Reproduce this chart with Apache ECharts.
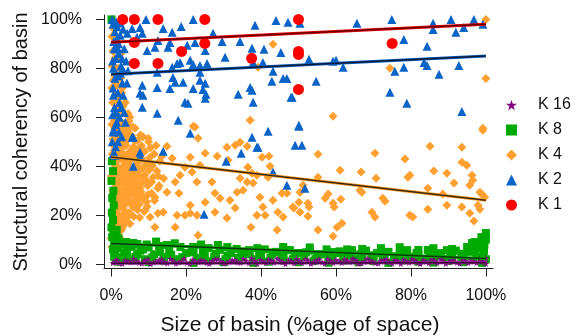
<!DOCTYPE html>
<html>
<head>
<meta charset="utf-8">
<script src="https://cdn.jsdelivr.net/npm/echarts@6/dist/echarts.min.js"></script>
<style>
  html, body { margin: 0; padding: 0; background: #fff; }
  #chart { width: 576px; height: 336px; }
</style>
</head>
<body>
<div id="chart"></div>
<script>
// tick positions on both axes (percent)
var tickValues = [0, 20, 40, 60, 80, 100];

// K 1 - red circles
var k1Points = [
    [3.1, 100], [6.2, 100], [12.5, 100], [25, 100], [50, 100], [6.2, 90.6], [25, 90.2],
    [18.8, 86.9], [6.2, 82], [12.5, 82], [37.5, 84.1], [50, 85.7], [50, 86.9], [50, 71.4], [75, 90.2]
];

// K 2 - blue triangles
var k2Points = [
    [0.5, 98], [1, 95], [1.5, 92], [0.8, 88], [2, 86], [1.2, 84], [0.6, 80], [2.5, 78], [1, 76], [3, 74],
    [0.5, 72], [1.8, 70], [2.2, 66], [0.9, 64], [3.5, 62], [1.5, 58], [0.7, 55], [2.8, 52], [1.2, 48], [0.5, 45],
    [2, 90], [3.5, 88], [4, 83], [4.5, 79], [3.2, 69], [0.5, 54], [0.3, 50], [1.1, 44.5], [5.6, 51.8], [7.7, 45.7],
    [7.7, 44], [13.9, 46.1], [5.9, 40], [1.6, 97], [3.2, 96], [2.6, 81], [4.2, 74], [1.4, 62], [3.8, 58], [2.2, 60],
    [0.3, 100], [1.3, 99], [2.4, 98.5], [0.7, 91], [1.8, 88], [2.9, 84], [0.4, 83], [1.9, 77], [3.3, 79], [0.6, 69],
    [2.7, 64], [0.4, 61], [1.2, 57], [2.1, 54], [1.8, 50],
    [9.3, 100], [21.9, 100], [13.9, 96.3], [18.7, 97.1], [16.3, 94.7], [7.7, 96.7], [5.6, 96.3], [4.3, 94.3],
    [2.4, 93.5], [6.9, 92.7], [8.3, 94.3], [27.2, 94.3], [29.6, 91], [34.4, 91], [37.6, 88.2], [40.8, 87.8],
    [45.3, 86.5], [38.4, 97.6], [44, 99.6], [47.2, 98.8], [50.4, 98.4], [22.4, 90.6], [20.3, 89.4], [15.7, 90.6],
    [15.2, 88.6], [12.5, 91.4], [11.7, 88.6], [9.6, 87.3], [25.1, 87.3], [30.4, 84.5], [25.6, 82], [23.7, 81.2],
    [21.1, 83.3], [21.9, 81.6], [18.4, 82.4], [17.6, 82], [16.3, 80.4], [12.3, 78.4], [23.7, 78.4], [40.5, 82.4],
    [37.9, 82.4], [43.2, 78.8], [45.9, 75.9], [46.9, 75.9], [42.9, 74.7], [37.1, 72.2], [37.6, 71], [33.9, 69.4],
    [37.9, 66.1], [48, 68.2], [50.1, 56.7], [41.9, 54.3], [23.7, 75.1], [25.1, 73.9], [24.5, 71.4], [25.3, 69.4],
    [25.1, 67.8], [19.2, 74.3], [16.5, 76.3], [17.1, 74.3], [15.7, 71.8], [21.9, 71.8], [12.3, 72.2], [8.3, 73.1],
    [8.5, 69], [7.7, 69.8], [19.7, 66.1], [20.5, 65.7], [17.9, 58.8], [12.3, 61.6], [8.3, 64.1], [21.1, 53.5],
    [5.9, 51.8], [65.6, 98.4], [74.9, 100], [85.9, 98.4], [85.9, 95.9], [90.7, 100], [96.8, 100], [92, 94.7],
    [94.1, 96.7], [99.2, 98], [78.1, 91.8], [84.3, 89], [52.8, 83.7], [59.2, 82.9], [60, 83.3], [61.9, 80.4],
    [75.7, 78.8], [78.1, 80.4], [83.5, 82.4], [84.3, 81.2], [87.5, 77.6], [92.8, 81.2], [54.7, 74.7], [74.4, 70.2],
    [78.9, 65.7], [93.6, 62.4], [50.1, 56.3], [48.3, 68.2], [24.8, 20.4], [30.7, 42], [34.7, 45.3], [37.6, 51.8],
    [39.2, 47.8], [49.1, 48.6], [50.9, 48.6], [43.2, 37.6], [46.9, 32.2], [51.7, 31], [38.9, 47.8], [1.1, 44.5]
];

// K 4 - orange diamonds
var k4Points = [
    [0.3, 99], [0.8, 96], [0.2, 93], [1.1, 90], [0.5, 87], [0.9, 84], [0.3, 81], [1.4, 78], [0.6, 75], [0.2, 72],
    [1, 69], [0.4, 66], [1.3, 63], [0.7, 60], [0.2, 57], [1.1, 54], [0.5, 51], [0.9, 48], [0.3, 45], [1.2, 42],
    [0.6, 39], [0.1, 36], [1, 33], [0.4, 30], [1.3, 27], [0.7, 24], [0.2, 21], [1, 18], [0.5, 15], [0.3, 12],
    [0.8, 10], [0.2, 7], [2, 84], [1.8, 80], [2.5, 76], [3, 72], [2.2, 68], [1.6, 64], [3.4, 62], [2.8, 58],
    [4.2, 57], [1.9, 56], [5, 60], [2.6, 86], [3.8, 66], [1.5, 73], [4.5, 54], [6.4, 55.5], [4.5, 55.5], [2.4, 61.6],
    [1.5, 53], [2.5, 52], [3.5, 53.5], [4.5, 51], [5.5, 52.5], [7, 50.5], [8.5, 52], [2, 49], [3, 47.5], [4, 48.5],
    [5, 46], [6, 48], [7.5, 47], [9, 46], [10.5, 47.5], [11.5, 45], [1.5, 45], [2.8, 43.5], [3.8, 44.5], [4.8, 42],
    [6.2, 43.5], [7.2, 41.5], [8.2, 43], [9.5, 41], [1.2, 40.5], [2.2, 39], [3.2, 40], [4.2, 38], [5.4, 39.5], [6.5, 37],
    [7.8, 38.5], [9, 36.5], [10.2, 38.5], [11.2, 35.5], [1.8, 36], [2.8, 34.5], [3.9, 35.5], [5, 33.5], [6, 35], [7, 32.5],
    [8.4, 33.5], [9.8, 32], [1.4, 31.5], [2.4, 30], [3.4, 31], [4.5, 29], [5.6, 30.5], [6.8, 28.5], [8, 29.5], [1.8, 27],
    [3, 26], [4, 27.5], [5.2, 25], [6.3, 26], [7.5, 24.5], [2.2, 23], [3.5, 22], [4.8, 21], [2.5, 19], [3.8, 17.5],
    [1.6, 16], [2.8, 14], [1.8, 12], [13, 42], [12.2, 38], [14, 35], [12.8, 32], [13.5, 44], [10.8, 29], [11.6, 26],
    [9.5, 25.5], [8.8, 21.5], [6, 19.5], [5, 16.5], [7.6, 19], [12, 48.5], [10, 50], [0, 10.6],
    [0.8, 58.5], [1.7, 59], [2.9, 55], [3.6, 56.8], [4.8, 58.5], [5.8, 56], [0.9, 55], [1.9, 52.5], [3.1, 50.5], [4.1, 52.8],
    [6.3, 50.5], [7.8, 52.8], [0.7, 50], [1.6, 47.5], [2.6, 46], [3.6, 49.8], [4.6, 45], [5.8, 44.8], [6.9, 46.2], [8.1, 48.4],
    [0.9, 46.6], [1.9, 42.5], [3.3, 42], [4.3, 41], [5.3, 43], [6.7, 40.2], [8.6, 39.6], [0.7, 41.8], [1.7, 38], [2.7, 37.2],
    [3.7, 38.6], [4.8, 36.2], [5.9, 38], [7.1, 36.4], [8.2, 35.1], [0.8, 37.5], [1.3, 34.3], [2.3, 33], [3.3, 33.6], [4.4, 32.2],
    [5.5, 31.8], [6.6, 33.8], [7.8, 31.2], [0.9, 31.2], [1.9, 29], [3, 28.6], [3.9, 30.2], [5, 27.8], [6.1, 28.8], [7.2, 27],
    [0.8, 28], [1.6, 25.2], [2.6, 24.5], [3.6, 24], [4.6, 25.6], [5.8, 23.2], [0.9, 22.5], [1.7, 20.5], [3, 20], [4.2, 19],
    [2, 17], [3.2, 15.5], [1.2, 13.5], [2.2, 11], [6.5, 31], [9.3, 34.5], [10.3, 43.6], [11, 40.2], [10.8, 33.6], [9.8, 28.3],
    [12.6, 36], [8.6, 26.5], [7, 22.2], [9.6, 23.5], [4.5, 61.5], [3.2, 64.5], [1.8, 66.5], [2.8, 70], [1.2, 74], [0.9, 77],
    [9.9, 51.4], [14.9, 48.2], [23.2, 51.4], [25.1, 45.3], [28.3, 44.1], [30.9, 47.8], [33.1, 48.6], [34.4, 49.8],
    [36.3, 48.2], [31.2, 42.4], [21.1, 43.7], [16.3, 43.3], [19.7, 39.6], [21.6, 37.6], [23.7, 40.4], [18.4, 36.3],
    [17.1, 33.5], [22.9, 33.5], [26.9, 33.5], [27.7, 29], [18.1, 29], [14.9, 29.4], [12.5, 31], [11.7, 27.3],
    [8.5, 27.3], [6.4, 23.3], [9.1, 22], [10.4, 19.2], [12.5, 20.8], [13.9, 21.2], [11.7, 15.1], [17.1, 15.1],
    [17.6, 20], [19.7, 20], [21.1, 20.8], [22.9, 20], [23.2, 11.8], [21.1, 24.1], [25.1, 25.3], [29.1, 26.9],
    [31.7, 26.1], [33.1, 22.9], [30.9, 18.8], [27.7, 21.2], [33.6, 29.4], [35.2, 30.2], [36.3, 33.5], [37.9, 33.1],
    [38.9, 36.3], [37.6, 37.1], [34.4, 35.1], [36.5, 39.6], [39.7, 27.3], [40.5, 23.3], [41.1, 20], [38.9, 20],
    [37.3, 15.1], [42.4, 40], [41.9, 35.5], [43.2, 26.1], [44.5, 21.2], [45.9, 19.2], [44.3, 13.9], [45.6, 29],
    [46.9, 29], [48.5, 23.3], [40.3, 43.7], [42.1, 44.1], [55.2, 44.9], [61.1, 38.4], [66.7, 37.6], [70.4, 45.3],
    [70.7, 35.1], [78.4, 42.9], [79.7, 36.3], [79.2, 35.5], [85.1, 48.2], [86.1, 38], [89.6, 37.1], [93.6, 47.8],
    [93.6, 41.6], [94.9, 40.4], [96.3, 36.3], [96.5, 34.3], [95.7, 32.2], [91.5, 33.1], [84.5, 31], [98.4, 29.4],
    [99.2, 28.2], [99.7, 27.3], [55.2, 35.5], [51.2, 32.2], [50.4, 29.4], [50.1, 25.3], [52.5, 24.9], [52.8, 23.3],
    [48.8, 22.9], [50.4, 21.2], [52.5, 19.6], [57.1, 26.9], [57.9, 28.6], [59.2, 24.9], [59.5, 23.3], [61.3, 26.5],
    [55.2, 13.9], [60.3, 15.1], [61.6, 16.7], [59.2, 11.4], [66.4, 30.2], [66.9, 29.4], [72.5, 26.9], [73.1, 25.7],
    [69.6, 21.2], [70.4, 19.2], [79.7, 20], [80.5, 19.2], [84.5, 22.4], [88.5, 28.6], [89.6, 24.1], [93.6, 23.3],
    [95.7, 20.8], [97.9, 24.1], [98.4, 22.4], [96.8, 17.6], [43.2, 89.8], [100, 100], [74.4, 80], [100, 75.9],
    [59.2, 60.4], [99.2, 55.5], [39.2, 80.4], [37.1, 58.8], [22.4, 56], [21.9, 56.3], [99.2, 54.7]
];

// K 8 - green squares
var k8Points = [
    [0.2, 42], [0.5, 38], [0.1, 34], [0.6, 30], [0.3, 27], [0.7, 24], [0.2, 21], [0.5, 18], [0.1, 15], [0.6, 13],
    [0.3, 11], [0.8, 9], [0.1, 100], [1.5, 14], [1.2, 12], [2, 10.5], [2.8, 9], [3.5, 8.2],
    [1, 4], [2, 6.5], [3, 2.5], [4.2, 5], [5.5, 7], [6.5, 3], [7.8, 5.5], [9, 2], [10, 6.8], [11.5, 4],
    [12.8, 7.4], [14, 3], [15.5, 5.5], [17, 2], [18.5, 7], [20, 4.5], [21.5, 6], [23, 2.5], [24.5, 5], [26, 6.5],
    [27.5, 3], [29, 5.8], [30.5, 2], [32, 4.5], [33.5, 6.2], [35, 3], [36.5, 5], [38, 2], [39.5, 4], [41, 6],
    [42.5, 2.5], [44, 5], [45.5, 3.5], [47, 5.8], [48.5, 2], [50, 4.5], [51.5, 3], [53, 5.5], [54.5, 2], [56, 4],
    [57.5, 6], [59, 2.5], [60.5, 4.5], [62, 3], [63.5, 5], [65, 2], [66.5, 4], [68, 5.5], [69.5, 2.5], [71, 4.5],
    [72.5, 3], [74, 5], [75.5, 2], [77, 4], [78.5, 5.5], [80, 3], [81.5, 4.5], [83, 2], [84.5, 5.8], [86, 3.5],
    [87.5, 4.5], [89, 2], [90.5, 4], [92, 5.5], [93.5, 3], [95, 7], [96, 5], [97, 9], [97.5, 3], [98.2, 6.5],
    [98.8, 11], [99.3, 4], [99.6, 8], [100, 12.7], [100, 2], [99, 0.5],
    [2, 1], [6, 1.5], [10, 0.8], [14, 1.2], [18, 1.5], [22, 0.5], [26, 1.2], [30, 0.8], [34, 1.5], [38, 0.5],
    [42, 1], [46, 1.5], [50, 0.8], [54, 1.2], [58, 0.6], [62, 1.4], [66, 0.8], [70, 1.2], [74, 0.5], [78, 1.5],
    [82, 1], [86, 0.6], [90, 1.3], [94, 0.8],
    [5.9, 8.6], [14.9, 7.8], [21.9, 7], [28.5, 7.8], [34.7, 4.9], [36.8, 5.7], [45.9, 7], [47.7, 5.7], [51, 4.5],
    [59, 4.9], [63, 6], [64.3, 5.7], [77, 6.9], [79, 5.7], [86, 6.5], [89.6, 5.7], [96.3, 8.6], [99, 9], [100, 10],
    [1.5, 3], [3.5, 4.5], [5, 2], [7, 4], [8.5, 6], [11, 2.8], [13, 5], [16, 3.8], [19, 2.8], [22, 4.8],
    [25, 3.2], [28, 4.2], [31, 3.5], [34, 2.5], [37, 4], [40, 3], [43, 4.2], [46, 2.8], [49, 3.8], [52, 4.8],
    [55, 3.2], [58, 4], [61, 5.2], [64, 3.5], [67, 2.8], [70, 3.6], [73, 4.2], [76, 3.2], [79, 2.6], [82, 3.8],
    [85, 2.8], [88, 3.4], [91, 2.6], [94, 4.2], [97, 6], [98.5, 8], [99.5, 5.5], [0.5, 6], [0.8, 3], [1.8, 8],
    [4, 9], [7, 8.2], [9.5, 8], [12, 9.2], [17, 8.5], [24, 8], [31, 7], [39, 6.5], [53, 6.8], [67, 6.2],
    [72, 6.5], [82, 5.8], [91, 6.2]
];

// K 16 - purple stars
var k16Points = [
    [0.5, 0.5], [1.5, 1.8], [3, 0.2], [4.5, 1.2], [6, 2.2], [7.5, 0.6], [9, 1.5], [10.5, 0.1], [12, 1], [13.5, 2],
    [15, 0.4], [16.5, 1.4], [18, 0.8], [19.5, 2.3], [21, 0.2], [22.5, 1.1], [24, 1.7], [25.5, 0.5], [27, 1.3], [28.5, 2.1],
    [30, 0.3], [31.5, 1], [33, 1.8], [34.5, 0.6], [36, 1.4], [37.5, 2.4], [39, 0.2], [40.5, 1.1], [42, 1.9], [43.5, 0.7],
    [45, 1.5], [46.5, 0.1], [48, 1.2], [49.5, 2.2], [51, 0.5], [52.5, 1.6], [54, 0.9], [55.5, 2], [57, 0.3], [58.5, 1.3],
    [60, 1.8], [61.5, 0.6], [63, 1.5], [64.5, 2.3], [66, 0.2], [67.5, 1], [69, 1.7], [70.5, 0.5], [72, 1.4], [73.5, 2.1],
    [75, 0.3], [76.5, 1.2], [78, 1.9], [79.5, 0.7], [81, 1.5], [82.5, 0.1], [84, 1.1], [85.5, 2], [87, 0.5], [88.5, 1.6],
    [90, 0.9], [91.5, 2.2], [93, 0.3], [94.5, 1.3], [96, 1.8], [97.5, 0.6], [99, 1.4], [100, 2.4], [100, 0.2],
    [1, 1], [2.2, 0.4], [3.8, 1.5], [5.2, 0.8], [6.8, 1.1], [8.2, 0.3], [9.8, 2], [11.3, 0.7], [12.8, 1.6], [14.2, 0.9],
    [15.8, 2.1], [17.3, 0.3], [18.8, 1.2], [20.2, 0.6], [21.8, 1.9], [23.3, 0.8], [24.8, 1.3], [26.2, 0.2], [27.8, 2], [29.3, 1.1],
    [30.8, 0.5], [32.3, 1.6], [33.8, 0.9], [35.3, 2.2], [36.8, 0.4], [38.3, 1.3], [39.8, 1.8], [41.3, 0.5], [42.8, 1.4], [44.3, 2.3],
    [45.8, 0.8], [47.3, 1.7], [48.8, 0.4], [50.3, 1.3], [51.8, 2], [53.3, 0.2], [54.8, 1.5], [56.3, 0.8], [57.8, 2.2], [59.3, 0.5],
    [60.8, 1.2], [62.3, 2], [63.8, 0.9], [65.3, 1.6], [66.8, 0.4], [68.3, 2.3], [69.8, 1.1], [71.3, 0.3], [72.8, 1.8], [74.3, 0.9],
    [75.8, 1.6], [77.3, 0.2], [78.8, 1.2], [80.3, 2.1], [81.8, 0.7], [83.3, 1.7], [84.8, 0.4], [86.3, 1.4], [87.8, 2.2], [89.3, 0.2],
    [90.8, 1.5], [92.3, 0.7], [93.8, 2], [95.3, 0.5], [96.8, 1.2], [98.3, 2.1], [99.6, 0.9]
];

// least squares fit lines, end points
var fitK1 = [[0, 90.7], [100, 98]];
var fitK2 = [[0, 77.6], [100, 85]];
var fitK4 = [[0, 43.8], [100, 26.1]];
var fitK8 = [[0, 8.4], [100, 2.3]];
var fitK16 = [[0, 0.3], [100, 0.5]];

var starPath = 'path://M50,0 L61,35 L98,35 L68,57 L79,91 L50,70 L21,91 L32,57 L2,35 L39,35 Z';
var fontFamily = '"Liberation Sans", Arial, sans-serif';

function scatterSeries(name, points, symbol, size, color, z) {
    return {
        name: name,
        type: 'scatter',
        data: points,
        symbol: symbol,
        symbolSize: size,
        clip: false,
        z: z,
        itemStyle: { color: color, opacity: 1 },
        emphasis: { disabled: true }
    };
}

function fitSeries(points, darkColor, lightColor, z) {
    var base = {
        type: 'line',
        data: points,
        symbol: 'none',
        silent: true,
        z: z
    };
    return [
        Object.assign({}, base, { name: 'fit-a', lineStyle: { color: lightColor, width: 3 } }),
        Object.assign({}, base, { name: 'fit-b', lineStyle: { color: darkColor, width: 1.5 } })
    ];
}

var chart = echarts.init(document.getElementById('chart'));
var options = {
    animation: false,
    backgroundColor: '#fff',
    textStyle: { fontFamily: fontFamily },
    grid: { left: 104, top: 15, width: 389, height: 253.5, containLabel: false },
    xAxis: {
        type: 'value',
        min: -1.9,
        max: 101.9,
        splitLine: { show: false },
        axisLine: { show: true, onZero: false, lineStyle: { color: '#222', width: 1 } },
        axisTick: { show: true, customValues: tickValues, length: 8, lineStyle: { color: '#222' } },
        axisLabel: {
            customValues: tickValues,
            margin: 19,
            fontSize: 16,
            color: '#111',
            fontFamily: fontFamily,
            formatter: function (v) { return v + '%'; }
        }
    },
    yAxis: {
        type: 'value',
        min: -1.8,
        max: 101.8,
        splitLine: { show: false },
        axisLine: { show: true, onZero: false, lineStyle: { color: '#222', width: 1 } },
        axisTick: { show: true, customValues: tickValues, length: 8, lineStyle: { color: '#222' } },
        axisLabel: {
            customValues: tickValues,
            margin: 22,
            fontSize: 16,
            color: '#111',
            fontFamily: fontFamily,
            formatter: function (v) { return v + '%'; }
        }
    },
    legend: {
        data: [
            { name: 'K 16', icon: starPath },
            { name: 'K 8', icon: 'rect' },
            { name: 'K 4', icon: 'diamond' },
            { name: 'K 2', icon: 'triangle' },
            { name: 'K 1', icon: 'circle' }
        ],
        orient: 'vertical',
        left: 501,
        top: 91,
        itemWidth: 11,
        itemHeight: 11,
        itemGap: 7,
        selectedMode: false,
        textStyle: { fontSize: 16, color: '#111', fontFamily: fontFamily, lineHeight: 18, padding: [0, 0, 0, 16] }
    },
    graphic: [
        {
            type: 'text',
            x: 300,
            y: 325,
            style: {
                text: 'Size of basin (%age of space)',
                fontSize: 21,
                fontFamily: fontFamily,
                fill: '#111',
                textAlign: 'center',
                textVerticalAlign: 'middle'
            }
        },
        {
            type: 'text',
            x: 21,
            y: 142,
            rotation: Math.PI / 2,
            style: {
                text: 'Structural coherency of basin',
                fontSize: 20,
                fontFamily: fontFamily,
                fill: '#111',
                textAlign: 'center',
                textVerticalAlign: 'middle'
            }
        }
    ],
    series: [
        scatterSeries('K 4', k4Points, 'diamond', 9, '#ffa030', 2),
        scatterSeries('K 8', k8Points, 'rect', 8, '#00aa00', 3),
        scatterSeries('K 16', k16Points, starPath, 7, '#800080', 4),
        scatterSeries('K 2', k2Points, 'triangle', 9, '#0a64c8', 5),
        scatterSeries('K 1', k1Points, 'circle', 11, '#ff0000', 6)
    ]
        .concat(fitSeries(fitK16, '#3a003a', '#9a209a', 7))
        .concat(fitSeries(fitK8, '#0a3a0a', '#00aa00', 7))
        .concat(fitSeries(fitK4, '#3a2a10', '#ff9a20', 7))
        .concat(fitSeries(fitK2, '#0a1a3a', '#1060c0', 7))
        .concat(fitSeries(fitK1, '#6a0000', '#ee0000', 7))
};
chart.setOption(options);
</script>
</body>
</html>
